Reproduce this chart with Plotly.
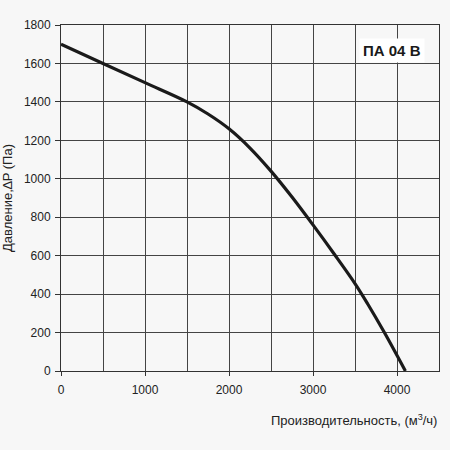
import plotly.graph_objects as go

# fan curve
flow = [0, 500, 1000, 1500, 1750, 2000, 2250, 2500, 2750, 3000, 3250, 3500, 3650, 3850, 4100]
pressure = [1700, 1600, 1500, 1400, 1337, 1260, 1160, 1040, 905, 760, 610, 455, 350, 200, 0]

x_ticks = [0, 1000, 2000, 3000, 4000]
y_ticks = [0, 200, 400, 600, 800, 1000, 1200, 1400, 1600, 1800]

bg = "#f7f7f7"
grid = "#444444"

fig = go.Figure()
fig.add_trace(go.Scatter(x=flow, y=pressure, mode="lines",
                         line=dict(color="#1a1a1a", width=3.2, shape="spline", smoothing=1.0),
                         showlegend=False, hoverinfo="skip"))

fig.add_annotation(x=3935, y=1665, text="<b>ПА 04 В</b>", showarrow=False,
                   font=dict(family="Arial", size=15, color="#1a1a1a"),
                   bgcolor="white", borderpad=3)

fig.add_annotation(xref="paper", yref="paper", x=1.0, y=-0.142, xanchor="right", yanchor="middle",
                   text="Производительность, (м<sup>3</sup>/ч)", showarrow=False,
                   font=dict(family="Arial", size=13, color="#222"))

fig.update_xaxes(range=[0, 4500], tickvals=x_ticks, automargin=False,
                 showgrid=True, gridcolor=grid, gridwidth=1,
                 minor=dict(dtick=500, showgrid=True, gridcolor=grid, gridwidth=1),
                 showline=True, linecolor="#333", linewidth=1, mirror=True,
                 ticks="outside", ticklen=4, tickcolor="#333", ticklabelstandoff=4,
                 tickfont=dict(family="Arial", size=12, color="#222"), zeroline=False)
fig.update_yaxes(range=[0, 1800], tickvals=y_ticks, automargin=False,
                 showgrid=True, gridcolor=grid, gridwidth=1,
                 showline=True, linecolor="#333", linewidth=1, mirror=True,
                 ticks="outside", ticklen=5, tickcolor="#333", ticklabelstandoff=2,
                 tickfont=dict(family="Arial", size=12, color="#222"), zeroline=False,
                 title=dict(text="Давление,∆P (Па)", font=dict(family="Arial", size=13, color="#222"),
                            standoff=9))

fig.update_layout(width=450, height=450, paper_bgcolor=bg, plot_bgcolor=bg,
                  margin=dict(l=61, r=11, t=25, b=79))

# the page's default body margin would shift the chart by 8px
fig.write_html("out.html", config={"displayModeBar": False},
               post_script="document.body.style.margin='0';")
